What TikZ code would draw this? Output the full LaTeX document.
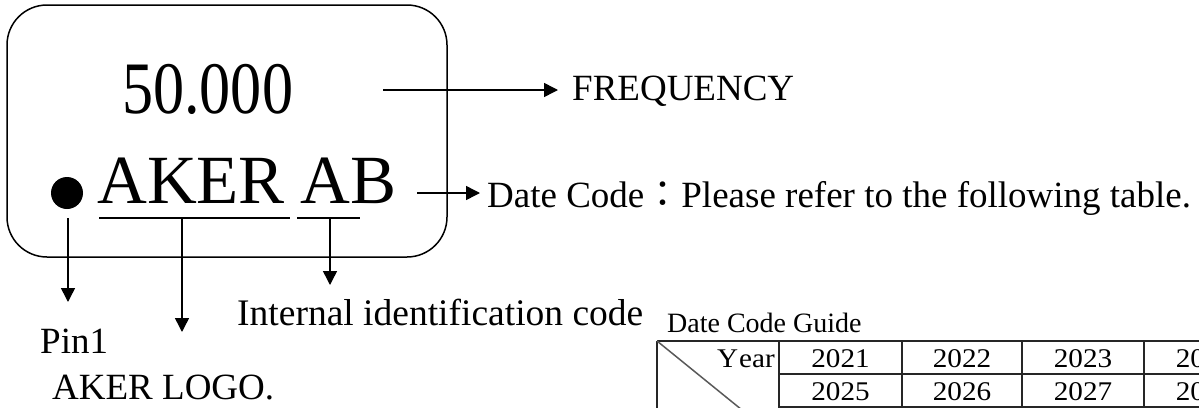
\documentclass[tikz,border=0pt]{standalone}
\usepackage{fontspec}
\setmainfont{Liberation Serif}
\newfontfamily\cjk{Noto Sans CJK TC}
\usetikzlibrary{arrows.meta,calc}
\begin{document}
\begin{tikzpicture}[x=1pt,y=-1pt,
  lbl/.style={inner sep=0pt, anchor=base west, font=\fontsize{37}{40}\selectfont},
  big/.style={inner sep=0pt, anchor=base west, font=\fontsize{69}{72}\selectfont},
  arr/.style={line width=1.5pt,-{Triangle[length=14pt,width=14pt]}},
  uline/.style={line width=1.5pt},
  tline/.style={line width=2pt,black!85},
  tnum/.style={inner sep=0pt, anchor=base, font=\fontsize{27}{30}\selectfont},
  tsmall/.style={inner sep=0pt, font=\fontsize{28}{30}\selectfont}]
\useasboundingbox (0,0) rectangle (1199,407);
\clip (0,0) rectangle (1199,407);
% chip outline
\node[draw, line width=1.5pt, rounded corners=40pt, minimum width=440pt, minimum height=252pt, inner sep=0pt] (chip) at (227,131) {};
% marking
\node[inner sep=0pt, anchor=base west, font=\fontsize{74}{80}\selectfont] (fval) at (122,113) {\scalebox{0.84}[1]{50.000}};
\node[circle, fill, minimum size=32pt, inner sep=0pt] (dot) at (67,193) {};
\node[big] (aker) at (97,203) {AKER};
\node[big] (ab) at (300,203) {AB};
\coordinate (u1a) at (99,218); \coordinate (u1b) at (290,218);
\coordinate (u2a) at (297,218); \coordinate (u2b) at (360,218);
\draw[uline] (u1a) -- (u1b);
\draw[uline] (u2a) -- (u2b);
% labels
\node[lbl] (freq) at (572,100) {FREQUENCY};
\node[lbl] (date) at (487,207) {Date Code{\cjk ：}Please refer to the following table.};
\node[lbl, font=\fontsize{37.5}{40}\selectfont] (internal) at (237,325) {Internal identification code};
\node[lbl] (pin) at (40,353) {Pin1};
\node[lbl] (logo) at (52,399) {AKER LOGO.};
% connectors
\coordinate (f0) at (383,90); \coordinate (f1) at (558,90);
\draw[arr] (f0) -- (f1);
\coordinate (d0) at (417,193); \coordinate (d1) at (480,193);
\draw[arr] (d0) -- (d1);
\coordinate (p0) at (68,218); \coordinate (p1) at (68,302);
\draw[arr] (p0) -- (p1);
\coordinate (l0) at (182,218); \coordinate (l1) at (182,332);
\draw[arr] (l0) -- (l1);
\coordinate (i0) at (330,218); \coordinate (i1) at (330,285);
\draw[arr] (i0) -- (i1);
% table
\node[tsmall, anchor=base west] (guide) at (667,332) {Date Code Guide};
\coordinate (tl) at (657,341); \coordinate (tr) at (1300,341);
\draw[tline] (tl) -- (tr);
\draw[tline] (779,374) -- (1300,374);
\draw[tline] (779,407) -- (1300,407);
\foreach \x in {657,779,902,1022,1144,1266} \draw[tline] (\x,341) -- (\x,440);
\draw[line width=1.5pt, black!65] (tl) -- (779,440);
\node[tnum, anchor=base east] (year) at (775,367) {\scalebox{1.08}[1]{Y\kern1pt ear}};
\node[tnum] (c21) at (840.5,367) {\scalebox{1.08}[1]{2021}};
\node[tnum] (c22) at (962,367) {\scalebox{1.08}[1]{2022}};
\node[tnum] (c23) at (1083,367) {\scalebox{1.08}[1]{2023}};
\node[tnum] (c24) at (1205,367) {\scalebox{1.08}[1]{2024}};
\node[tnum] (c25) at (840.5,400) {\scalebox{1.08}[1]{2025}};
\node[tnum] (c26) at (962,400) {\scalebox{1.08}[1]{2026}};
\node[tnum] (c27) at (1083,400) {\scalebox{1.08}[1]{2027}};
\node[tnum] (c28) at (1205,400) {\scalebox{1.08}[1]{2028}};
\end{tikzpicture}
\end{document}
